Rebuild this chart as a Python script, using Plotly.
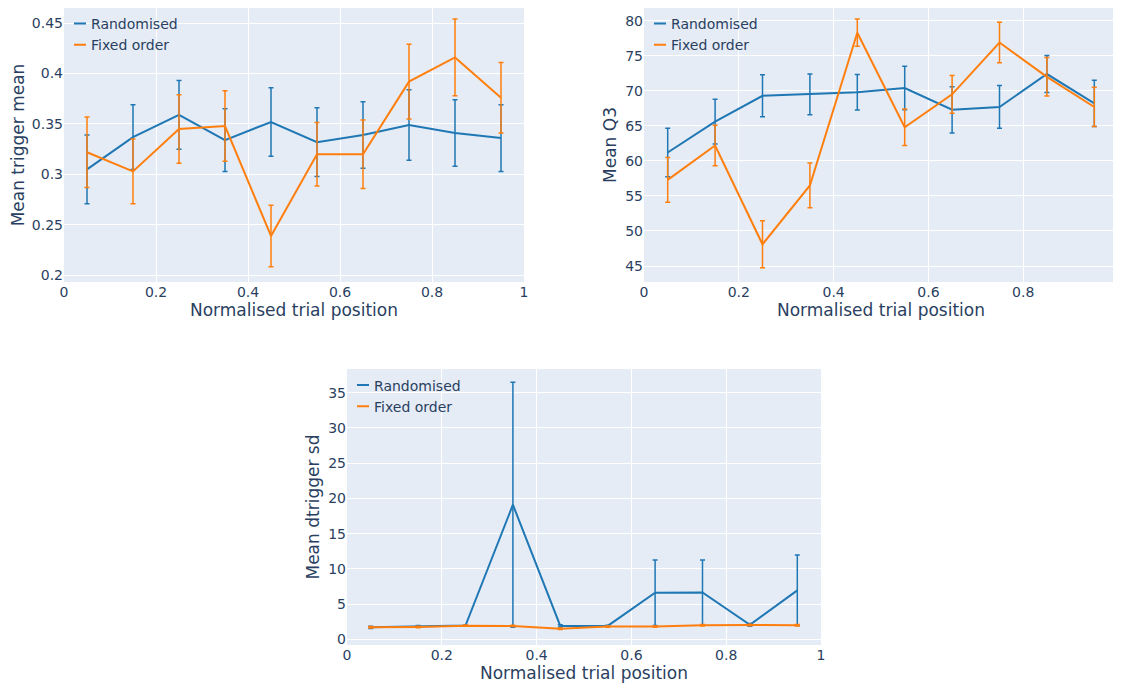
import plotly.graph_objects as go

# ---------------- data ----------------
x_pos = [0.05, 0.15, 0.25, 0.35, 0.45, 0.55, 0.65, 0.75, 0.85, 0.95]

trig_mean_rand = [0.305, 0.337, 0.359, 0.334, 0.352, 0.332, 0.339, 0.349, 0.341, 0.336]
trig_mean_rand_err = [0.034, 0.032, 0.034, 0.031, 0.034, 0.034, 0.033, 0.035, 0.033, 0.033]
trig_mean_fix = [0.322, 0.303, 0.345, 0.348, 0.239, 0.320, 0.320, 0.392, 0.416, 0.376]
trig_mean_fix_err = [0.035, 0.032, 0.034, 0.035, 0.0305, 0.0315, 0.034, 0.037, 0.038, 0.035]

q3_rand = [61.2, 65.6, 69.3, 69.5, 69.8, 70.4, 67.3, 67.7, 72.4, 68.2]
q3_rand_err = [3.45, 3.2, 3.0, 2.9, 2.55, 3.1, 3.3, 3.05, 2.65, 3.3]
q3_fix = [57.3, 62.2, 48.1, 56.5, 78.3, 64.8, 69.5, 76.9, 72.0, 67.7]
q3_fix_err = [3.2, 2.9, 3.35, 3.2, 1.95, 2.6, 2.7, 2.9, 2.75, 2.8]

dsd_rand = [1.7, 1.85, 1.95, 19.1, 1.9, 1.9, 6.6, 6.65, 2.05, 6.95]
dsd_rand_err = [0.15, 0.1, 0.1, 17.4, 0.15, 0.1, 4.65, 4.6, 0.2, 5.0]
dsd_fix = [1.7, 1.75, 1.94, 1.9, 1.5, 1.8, 1.8, 2.0, 2.03, 2.0]
dsd_fix_err = [0.1, 0.1, 0.1, 0.1, 0.1, 0.1, 0.1, 0.1, 0.1, 0.1]

series_names = ["Randomised", "Fixed order"]
x_title = "Normalised trial position"
y_titles = ["Mean trigger mean", "Mean Q3", "Mean dtrigger sd"]

BLUE = "#1f77b4"
ORANGE = "#ff7f0e"

# page has an 8px body margin; figure sized to fill the rest of the window
OFF = 8
W, H = 1121 - OFF, 686 - OFF

panels = [
    (trig_mean_rand, trig_mean_rand_err, trig_mean_fix, trig_mean_fix_err),
    (q3_rand, q3_rand_err, q3_fix, q3_fix_err),
    (dsd_rand, dsd_rand_err, dsd_fix, dsd_fix_err),
]

# layout geometry (screen pixels)
x_edges = [(64, 524), (644, 1118), (347, 821)]
y_edges = [(5, 282), (5, 282), (369, 645)]
# tick anchors (value, screen y) used to fix the vertical scale
y_anchor = [((0.45, 23.1), (0.2, 275.3)), ((80, 20.8), (45, 266.0)), ((35, 392.7), (0, 639.3))]
y_dticks = [0.05, 5, 5]
legend_tops = [8, 8, 369.5]


def xd(a, b):
    return [(a - OFF) / W, (b - OFF) / W]


def clamp_top(t):
    return max(t, OFF)


def yd(top, bottom):
    return [1 - (bottom - OFF) / H, 1 - (clamp_top(top) - OFF) / H]


def yrange(anchors, top, bottom):
    (v1, s1), (v2, s2) = anchors
    k = (v2 - v1) / (s2 - s1)
    return [v1 + (bottom - s1) * k, v1 + (clamp_top(top) - s1) * k]


fig = go.Figure()
for i, (yr, er, yf, ef) in enumerate(panels):
    ax = "" if i == 0 else str(i + 1)
    leg = "legend" if i == 0 else f"legend{i + 1}"
    for name, y, e, c in [(series_names[0], yr, er, BLUE), (series_names[1], yf, ef, ORANGE)]:
        fig.add_trace(go.Scatter(
            x=x_pos, y=y, mode="lines", name=name, showlegend=False,
            line=dict(color=c, width=2),
            error_y=dict(type="data", array=e, visible=True, color=c, thickness=1.5, width=2.5),
            xaxis="x" + ax, yaxis="y" + ax,
        ))
    # legend entries (short line symbol)
    for name, c in [(series_names[0], BLUE), (series_names[1], ORANGE)]:
        fig.add_trace(go.Scatter(
            x=[None], y=[None], mode="lines", name=name, showlegend=True,
            line=dict(color=c, width=2, dash="0px,18px,12px,200px"),
            xaxis="x" + ax, yaxis="y" + ax, legend=leg,
        ))

layout = dict(
    width=W, height=H,
    template="plotly",
    font=dict(family="DejaVu Sans, Verdana, sans-serif", size=14, color="#2a3f5f"),
    margin=dict(l=0, r=0, t=0, b=0),
    showlegend=True,
)
for i in range(3):
    ax = "" if i == 0 else str(i + 1)
    xdom = xd(*x_edges[i])
    ydom = yd(*y_edges[i])
    layout["xaxis" + ax] = dict(
        domain=xdom, range=[0, 1], dtick=0.2, anchor="y" + ax,
        title=dict(text=x_title, font=dict(size=17), standoff=4), automargin=False,
        zeroline=False, ticklabeloverflow="allow",
    )
    layout["yaxis" + ax] = dict(
        domain=ydom, range=yrange(y_anchor[i], *y_edges[i]), dtick=y_dticks[i], anchor="x" + ax,
        title=dict(text=y_titles[i], font=dict(size=17), standoff=4), automargin=False,
        zeroline=False,
    )
    leg = "legend" if i == 0 else f"legend{i + 1}"
    layout[leg] = dict(
        x=(x_edges[i][0] - 13 - OFF) / W, y=1 - (legend_tops[i] - OFF) / H,
        xanchor="left", yanchor="top",
        bgcolor="rgba(0,0,0,0)", font=dict(size=14),
    )

fig.update_layout(**layout)
fig.write_html("out.html")
